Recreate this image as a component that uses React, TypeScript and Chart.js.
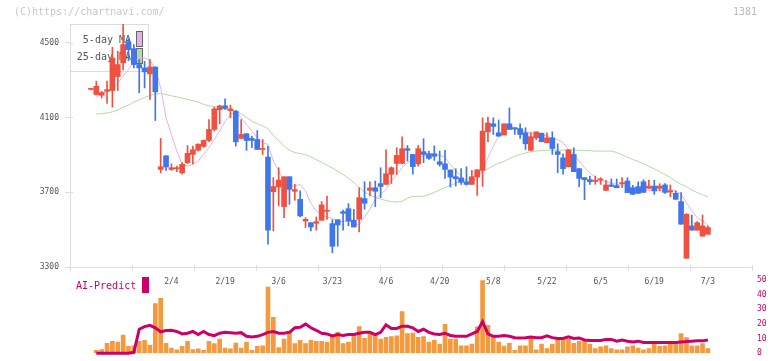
import React, { useEffect, useRef } from "react";
import { Chart, registerables } from "chart.js";

Chart.register(...registerables);

// ---------- data ----------
const dateLabels = ["2/4", "2/19", "3/6", "3/23", "4/6", "4/20", "5/8", "5/22", "6/5", "6/19", "7/3"];
const labelIndex = [15, 25, 35, 45, 55, 65, 75, 85, 95, 105, 115];
const priceTicks = [3300, 3700, 4100, 4500];
const aiTicks = [0, 10, 20, 30, 40, 50];

const open = [
  4250, 4223, 4219, 4240, 4244, 4319, 4392, 4505, 4468, 4383,
  4365, 4333, 4370, 3822, 3895, 3822, 3826, 3804, 3858, 3902,
  3925, 3945, 3977, 4036, 4141, 4162, 4137, 4134, 3988, 4013,
  3988, 3982, 3929, 3888, 3703, 3728, 3623, 3783, 3705, 3662,
  3546, 3537, 3534, 3550, 3598, 3532, 3553, 3596, 3612, 3550,
  3555, 3666, 3710, 3724, 3746, 3742, 3796, 3854, 3854, 3933,
  3902, 3852, 3917, 3906, 3906, 3863, 3852, 3819, 3783, 3776,
  3756, 3742, 3781, 3817, 4023, 4066, 4018, 4006, 4066, 4045,
  4040, 4018, 3924, 3991, 4016, 3965, 3991, 3917, 3884, 3836,
  3902, 3826, 3778, 3767, 3758, 3765, 3710, 3739, 3735, 3746,
  3760, 3724, 3730, 3756, 3721, 3733, 3721, 3739, 3701, 3694,
  3650, 3347, 3520, 3497, 3465, 3475,
];
const high = [
  4256, 4294, 4240, 4294, 4475, 4454, 4600, 4522, 4490, 4410,
  4400, 4410, 4370, 3988, 3895, 3852, 3840, 3858, 3950, 3947,
  3960, 3980, 4089, 4155, 4166, 4200, 4166, 4137, 4089, 4013,
  4000, 4030, 3982, 3947, 3778, 3831, 3783, 3783, 3742, 3707,
  3564, 3537, 3568, 3650, 3680, 3553, 3553, 3604, 3639, 3609,
  3724, 3756, 3756, 3760, 3831, 3927, 3836, 3938, 3997, 3950,
  3902, 3950, 3986, 3920, 3948, 3920, 3924, 3819, 3826, 3826,
  3836, 3817, 3820, 4098, 4102, 4098, 4087, 4066, 4151, 4045,
  4066, 4045, 4018, 4023, 4016, 4018, 4023, 3959, 3906, 3927,
  3938, 3826, 3778, 3787, 3787, 3778, 3764, 3771, 3771, 3778,
  3778, 3737, 3756, 3767, 3765, 3764, 3746, 3746, 3739, 3707,
  3698, 3586, 3578, 3543, 3578, 3520,
];
const low = [
  4248, 4219, 4205, 4175, 4155, 4244, 4355, 4404, 4365, 4232,
  4258, 4196, 4084, 3804, 3817, 3817, 3810, 3796, 3854, 3852,
  3920, 3940, 3970, 4027, 4066, 4143, 4098, 3947, 3988, 3924,
  3938, 3929, 3902, 3422, 3493, 3627, 3564, 3635, 3657, 3568,
  3511, 3493, 3497, 3550, 3555, 3376, 3411, 3497, 3520, 3514,
  3488, 3609, 3680, 3623, 3671, 3742, 3747, 3796, 3854, 3867,
  3796, 3840, 3858, 3876, 3870, 3840, 3774, 3728, 3733, 3742,
  3738, 3742, 3683, 3731, 3970, 4009, 4000, 4006, 4036, 4009,
  3988, 3929, 3924, 3982, 3970, 3965, 3902, 3804, 3796, 3836,
  3810, 3730, 3660, 3742, 3742, 3742, 3710, 3731, 3724, 3724,
  3698, 3689, 3694, 3699, 3721, 3689, 3707, 3694, 3676, 3662,
  3529, 3347, 3497, 3497, 3465, 3475,
];
const close = [
  4252, 4267, 4233, 4249, 4418, 4383, 4490, 4463, 4383, 4365,
  4344, 4370, 4237, 3836, 3835, 3831, 3830, 3849, 3908, 3927,
  3956, 3977, 4036, 4146, 4162, 4148, 4146, 3970, 4009, 3977,
  3977, 3929, 3934, 3497, 3730, 3765, 3783, 3715, 3714, 3573,
  3555, 3514, 3543, 3632, 3604, 3411, 3525, 3587, 3546, 3514,
  3671, 3641, 3723, 3705, 3731, 3799, 3831, 3897, 3933, 3924,
  3837, 3933, 3902, 3881, 3892, 3849, 3822, 3781, 3772, 3753,
  3742, 3783, 3820, 4027, 4070, 4052, 4000, 4066, 4036, 4038,
  4009, 3959, 3997, 4023, 3970, 3991, 3934, 3902, 3826, 3927,
  3810, 3774, 3767, 3756, 3764, 3771, 3739, 3731, 3724, 3751,
  3698, 3689, 3694, 3699, 3733, 3707, 3733, 3699, 3708, 3662,
  3529, 3582, 3497, 3537, 3520, 3511,
];
const ma5 = [
  null, 4208, 4226, 4240, 4258, 4285, 4320, 4356, 4401, 4418,
  4418, 4404, 4365, 4258, 4098, 4009, 3920, 3849, 3840, 3849,
  3867, 3902, 3938, 3982, 4027, 4080, 4116, 4130, 4098, 4062,
  4027, 3991, 3965, 3956, 3867, 3813, 3760, 3733, 3733, 3742,
  3707, 3640, 3600, 3580, 3566, 3561, 3543, 3543, 3546, 3535,
  3525, 3568, 3609, 3662, 3689, 3715, 3760, 3796, 3831, 3858,
  3876, 3885, 3893, 3899, 3902, 3899, 3885, 3849, 3813, 3787,
  3760, 3760, 3772, 3822, 3885, 3947, 4000, 4030, 4048, 4048,
  4036, 4023, 4018, 4013, 4009, 4000, 3988, 3982, 3965, 3929,
  3902, 3867, 3831, 3804, 3781, 3764, 3756, 3748, 3742, 3739,
  3730, 3721, 3715, 3710, 3710, 3710, 3710, 3710, 3715, 3707,
  3689, 3644, 3600, 3564, 3546, 3525,
];
const ma25 = [
  null, 4119, 4120, 4124, 4130, 4140, 4155, 4166, 4183, 4194,
  4207, 4218, 4226, 4228, 4222, 4216, 4210, 4203, 4196, 4190,
  4182, 4170, 4162, 4158, 4152, 4146, 4139, 4134, 4120, 4100,
  4080, 4067, 4055, 4040, 4003, 3976, 3948, 3925, 3912, 3907,
  3900, 3890, 3874, 3860, 3845, 3830, 3812, 3795, 3775, 3752,
  3725, 3702, 3685, 3673, 3663, 3656, 3650, 3647, 3652, 3668,
  3678, 3678, 3678, 3688, 3699, 3712, 3726, 3736, 3748, 3758,
  3767, 3780, 3795, 3812, 3826, 3842, 3855, 3865, 3880, 3893,
  3902, 3910, 3917, 3920, 3923, 3925, 3925, 3925, 3925, 3925,
  3925, 3924, 3924, 3922, 3920, 3920, 3920, 3920, 3913, 3900,
  3888, 3875, 3865, 3853, 3838, 3825, 3810, 3795, 3778, 3760,
  3742, 3730, 3712, 3698, 3686, 3676,
];
const volume = [
  null, 1.9, 2.5, 6.7, 8.1, 7.5, 12.3, 4.6, 5, 8.1,
  8.75, 5.6, 33.75, 37.3, 6.7, 3.5, 2.3, 4.6, 8.1, 2.5,
  2.9, 1.9, 8.1, 6.5, 9.6, 3.5, 2.9, 6.9, 3.5, 7.5,
  1.9, 4.6, 5, 45, 24.4, 3.9, 9.6, 15, 6.5, 8.75,
  6.5, 8.75, 8.1, 8.1, 7.5, 11.25, 14.4, 6.5, 7.5, 13.3,
  18.1, 10.2, 13.75, 12.3, 9.6, 10.8, 11.25, 11.9, 28.3, 13.3,
  13.75, 10.8, 11.25, 7.5, 8.75, 6.25, 19.6, 9.6, 9.6, 5,
  5, 6.25, 17.9, 49.4, 19, 10.8, 7.5, 4.8, 6.7, 1.9,
  5, 5, 11.25, 2.3, 6.25, 3.1, 6.25, 9.4, 9.4, 9.6,
  6.7, 8.1, 8.75, 6.25, 3.1, 4.4, 5, 3.1, 2.3, 2.3,
  4.4, 5, 3.5, 2.3, 3.1, 6.5, 4.6, 5, 6.5, 7.1,
  13.3, 10.6, 5, 5, 6.5, 3.1,
];
const aiPredict = [
  null, 0, 0, 0, 0, 0, 0, 0, 0.6, 16.3,
  18.1, 19, 17.3, 14.6, 15.4, 15.6, 14.8, 13.1, 13.6, 14.8,
  12.7, 14.8, 12.7, 11.9, 13.6, 14.2, 14, 13.6, 14, 11.5,
  11.1, 11.5, 12.7, 14.2, 14.8, 13.6, 13.6, 14.2, 17.3, 17.7,
  19.8, 17.3, 15.6, 13.6, 13.1, 11.7, 12.7, 12.1, 12.7, 12.7,
  13.6, 14.2, 14.2, 12.7, 14.2, 19.4, 16.9, 16.9, 18.4, 18.4,
  17.3, 14.8, 16.3, 14.2, 13.1, 12.7, 13.6, 12.1, 11.5, 11.5,
  11.5, 13.1, 14.8, 21.5, 13.1, 11.5, 11.5, 12.1, 11.5, 10.6,
  10.4, 10.6, 11.1, 10.6, 10.6, 11.9, 10.6, 10, 10, 11.1,
  10, 10.4, 9, 8.6, 8.6, 8.6, 9.4, 9.4, 8.2, 9,
  8.2, 7.7, 8.2, 7.3, 7.3, 7.3, 7.3, 7.3, 7.3, 7.3,
  7.7, 7.9, 8.2, 8.4, 8.4, 9,
];

// ---------- styles / layout ----------
const FONT = "'DejaVu Sans Mono', monospace";
const RED = "#f0503f";
const BLUE = "#4076ea";
const MA5_COLOR = "#e6b2e6";
const MA25_COLOR = "#b3daa3";
const VOL_COLOR = "#f49a3e";
const AI_COLOR = "#cc0066";
const AXIS_COLOR = "#dddddd";
const TICK_TEXT = "#555555";
const X_MIN = -3.903;
const X_MAX = 123.22;
const GRID_DIVS = 11;

export default function App() {
  const topRef = useRef<HTMLCanvasElement>(null);
  const botRef = useRef<HTMLCanvasElement>(null);

  useEffect(() => {
    const idx = open.map((_, j) => j);
    const colors = idx.map((j) => (close[j] >= open[j] ? RED : BLUE));
    const gridTicks = Array.from({ length: GRID_DIVS + 1 }, (_, k) => X_MIN + ((X_MAX - X_MIN) * k) / GRID_DIVS);
    const labelMap = new Map<number, string>(labelIndex.map((j, k) => [j, dateLabels[k]]));

    const topPlugin = {
      id: "topDecor",
      beforeDatasetsDraw(chart: any) {
        const ctx = chart.ctx;
        const a = chart.chartArea;
        ctx.save();
        ctx.fillStyle = "#ffffff";
        ctx.fillRect(a.left + 0.5, a.top + 0.5, 78, 47);
        ctx.strokeStyle = AXIS_COLOR;
        ctx.lineWidth = 1;
        ctx.strokeRect(a.left + 0.5, a.top + 0.5, 78, 47);
        ctx.font = `10px ${FONT}`;
        ctx.fillStyle = TICK_TEXT;
        ctx.textAlign = "right";
        ctx.textBaseline = "middle";
        ctx.fillText("5-day MA", a.left + 61, a.top + 16);
        ctx.fillText("25-day MA", a.left + 61, a.top + 33);
        ctx.strokeStyle = "#666666";
        ctx.fillStyle = MA5_COLOR;
        ctx.fillRect(a.left + 66.5, a.top + 7.5, 6, 15);
        ctx.strokeRect(a.left + 66.5, a.top + 7.5, 6, 15);
        ctx.fillStyle = MA25_COLOR;
        ctx.fillRect(a.left + 66.5, a.top + 24.5, 6, 15);
        ctx.strokeRect(a.left + 66.5, a.top + 24.5, 6, 15);
        ctx.restore();
      },
      afterDraw(chart: any) {
        const ctx = chart.ctx;
        const a = chart.chartArea;
        const xs = chart.scales.x;
        const ys = chart.scales.y;
        ctx.save();
        ctx.strokeStyle = AXIS_COLOR;
        ctx.lineWidth = 1;
        ctx.beginPath();
        gridTicks.forEach((v) => {
          const px = Math.round(xs.getPixelForValue(v)) + 0.5;
          ctx.moveTo(px, a.bottom - 2);
          ctx.lineTo(px, a.bottom);
        });
        priceTicks.forEach((v) => {
          const py = Math.round(ys.getPixelForValue(v)) + 0.5;
          ctx.moveTo(a.left, py);
          ctx.lineTo(a.left + 3, py);
        });
        ctx.stroke();
        ctx.font = `10px ${FONT}`;
        ctx.textBaseline = "middle";
        ctx.fillStyle = "#c8c8c8";
        ctx.textAlign = "left";
        ctx.fillText("(C)https://chartnavi.com/", 14, 12.5);
        ctx.fillStyle = "#bbbbbb";
        ctx.textAlign = "right";
        ctx.fillText("1381", 757, 12.5);
        ctx.restore();
      },
    };

    const top = new Chart(topRef.current as HTMLCanvasElement, {
      type: "bar",
      data: {
        datasets: [
          {
            type: "bar",
            label: "body",
            data: idx.map((j) => ({ x: j, y: [open[j], close[j]] })) as any,
            backgroundColor: colors,
            barThickness: 5,
            minBarLength: 1,
            grouped: false,
            borderWidth: 0,
            order: 0,
          } as any,
          {
            type: "bar",
            label: "wick",
            data: idx.map((j) => ({ x: j, y: [low[j], high[j]] })) as any,
            backgroundColor: colors,
            barThickness: 1,
            minBarLength: 1,
            grouped: false,
            borderWidth: 0,
            order: 1,
          } as any,
          {
            type: "line",
            label: "5-day MA",
            data: idx.map((j) => ({ x: j, y: ma5[j] })) as any,
            borderColor: MA5_COLOR,
            borderWidth: 1,
            pointRadius: 0,
            order: 2,
          } as any,
          {
            type: "line",
            label: "25-day MA",
            data: idx.map((j) => ({ x: j, y: ma25[j] })) as any,
            borderColor: MA25_COLOR,
            borderWidth: 1,
            pointRadius: 0,
            order: 3,
          } as any,
        ],
      },
      options: {
        animation: false,
        responsive: false,
        devicePixelRatio: 1,
        layout: { padding: { top: 24, right: 20, left: 0, bottom: 0 } },
        plugins: { legend: { display: false }, tooltip: { enabled: false } },
        scales: {
          x: {
            type: "linear",
            min: X_MIN,
            max: X_MAX,
            offset: false,
            afterBuildTicks: (s: any) => {
              s.ticks = [...gridTicks, ...labelIndex].sort((p, q) => p - q).map((v) => ({ value: v }));
            },
            afterFit: (s: any) => {
              s.height = 33;
            },
            grid: {
              display: true,
              drawOnChartArea: false,
              drawTicks: true,
              tickLength: 4,
              offset: false,
              color: (c: any) => (c.tick && labelMap.has(c.tick.value) ? "rgba(0,0,0,0)" : AXIS_COLOR),
            },
            border: { display: true, color: AXIS_COLOR },
            ticks: {
              autoSkip: false,
              maxRotation: 0,
              minRotation: 0,
              padding: 6,
              color: TICK_TEXT,
              font: { family: FONT, size: 8 },
              callback: (v: any) => labelMap.get(v) ?? "",
            },
          } as any,
          y: {
            type: "linear",
            position: "left",
            min: 3300,
            max: 4600,
            afterBuildTicks: (s: any) => {
              s.ticks = priceTicks.map((v) => ({ value: v }));
            },
            afterFit: (s: any) => {
              s.width = 70;
            },
            grid: { drawOnChartArea: false, tickLength: 5, color: AXIS_COLOR },
            border: { display: true, color: AXIS_COLOR },
            ticks: { padding: 6, color: TICK_TEXT, font: { family: FONT, size: 8 }, callback: (v: any) => String(v) },
          } as any,
        },
      } as any,
      plugins: [topPlugin],
    });

    const botPlugin = {
      id: "botDecor",
      afterDraw(chart: any) {
        const ctx = chart.ctx;
        ctx.save();
        ctx.font = `10px ${FONT}`;
        ctx.fillStyle = AI_COLOR;
        ctx.textAlign = "left";
        ctx.textBaseline = "middle";
        ctx.fillText("AI-Predict", 76, 16.5);
        ctx.fillRect(142, 7, 7, 16);
        ctx.restore();
      },
    };

    const bot = new Chart(botRef.current as HTMLCanvasElement, {
      type: "bar",
      data: {
        datasets: [
          {
            type: "line",
            label: "AI-Predict",
            data: idx.map((j) => ({ x: j, y: aiPredict[j] })) as any,
            borderColor: AI_COLOR,
            borderWidth: 3,
            pointRadius: 0,
            yAxisID: "yr",
            clip: false,
            order: 0,
          } as any,
          {
            type: "bar",
            label: "volume",
            data: idx.map((j) => ({ x: j, y: volume[j] })) as any,
            backgroundColor: VOL_COLOR,
            barThickness: 4,
            grouped: false,
            borderWidth: 0,
            yAxisID: "yv",
            order: 1,
          } as any,
        ],
      },
      options: {
        animation: false,
        responsive: false,
        devicePixelRatio: 1,
        layout: { padding: { top: 8, bottom: 5, left: 70, right: 0 } },
        plugins: { legend: { display: false }, tooltip: { enabled: false } },
        scales: {
          x: { type: "linear", min: X_MIN, max: X_MAX, display: false, offset: false } as any,
          yv: { type: "linear", position: "left", min: 0, max: 50, display: false } as any,
          yr: {
            type: "linear",
            position: "right",
            min: 0,
            max: 50,
            afterBuildTicks: (s: any) => {
              s.ticks = aiTicks.map((v) => ({ value: v }));
            },
            afterFit: (s: any) => {
              s.width = 20;
            },
            grid: { display: false, drawTicks: false },
            border: { display: false },
            ticks: { padding: 5, color: AI_COLOR, font: { family: FONT, size: 8 } },
          } as any,
        },
      } as any,
      plugins: [botPlugin],
    });

    return () => {
      top.destroy();
      bot.destroy();
    };
  }, []);

  return (
    <div
      style={{
        position: "absolute",
        left: 0,
        top: 0,
        width: 772,
        height: 361,
        overflow: "hidden",
        background: "#ffffff",
      }}
    >
      <canvas
        ref={topRef}
        width={772}
        height={300}
        style={{ position: "absolute", left: 0, top: 0, width: 772, height: 300 }}
      />
      <canvas
        ref={botRef}
        width={772}
        height={93}
        style={{ position: "absolute", left: 0, top: 270, width: 772, height: 93 }}
      />
    </div>
  );
}
